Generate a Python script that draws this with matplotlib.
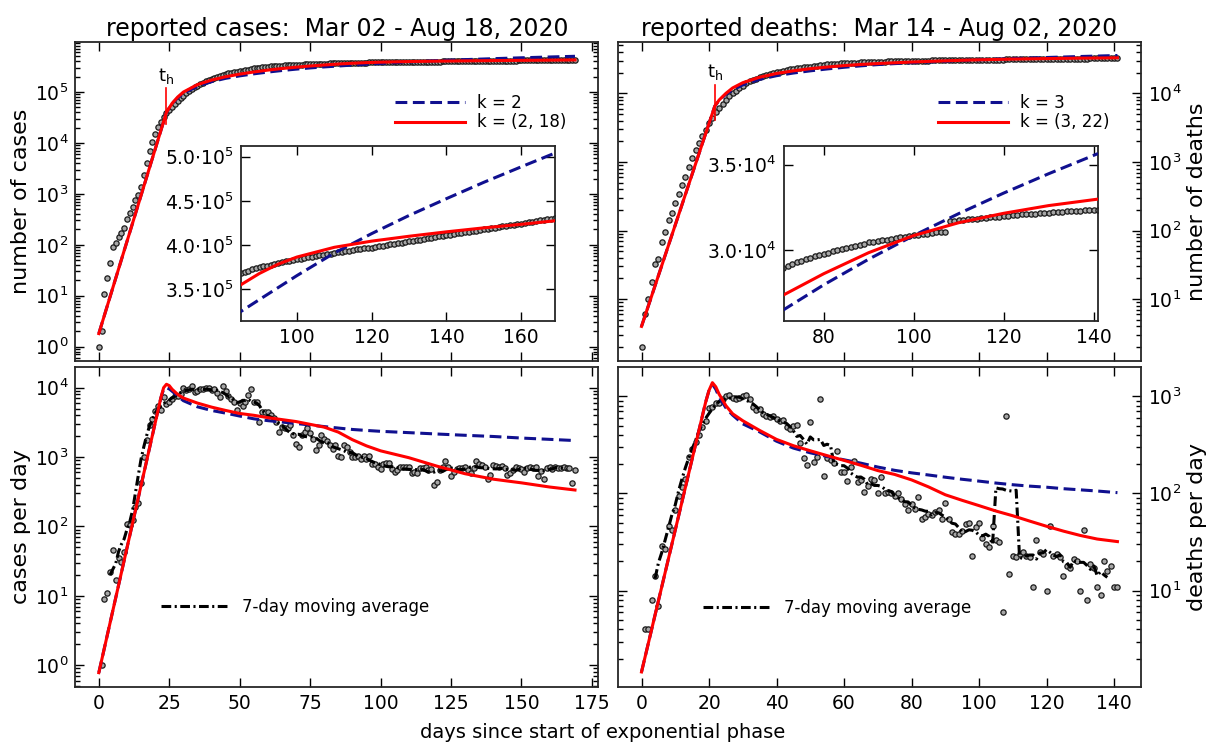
import numpy as np
import pandas as pd
import matplotlib
matplotlib.use("Agg")
import matplotlib.pyplot as plt
from matplotlib.ticker import FuncFormatter, LogLocator, NullFormatter, FixedLocator

plt.rcParams['font.family'] = ['DejaVu Sans']
plt.rcParams['mathtext.fontset'] = 'dejavusans'
plt.rcParams['lines.scale_dashes'] = False

# reported cases per day, day 1 .. 169 (day 0 cumulative = 1)
cases_start = 1
cases_daily = [
    1, 9, 11, 22, 45, 17, 35, 31, 43, 110,
    105, 123, 190, 218, 420, 1000, 1740, 2900, 3500, 4650,
    5500, 4700, 7300, 5900, 6300, 6900, 7700, 7700, 8200, 10000,
    9300, 9500, 10500, 8700, 9000, 9500, 9500, 10000, 10000, 9300,
    9500, 8500, 7400, 10500, 9000, 7700, 6800, 6200, 4700, 6000,
    5500, 6200, 7800, 9600, 6200, 6300, 3200, 4400, 4500, 4500,
    4000, 3600, 3200, 2300, 2700, 2600, 2600, 2900, 2050, 1550,
    1400, 2100, 2300, 2600, 2200, 1800, 1250, 1500, 2100, 1800,
    1700, 1500, 1300, 1500, 1050, 1000, 1500, 1400, 1200, 1000,
    1000, 1050, 950, 1050, 950, 1050, 800, 800, 720, 680,
    800, 830, 820, 680, 610, 645, 720, 720, 720, 720,
    580, 610, 580, 700, 700, 720, 650, 680, 390, 440,
    650, 720, 880, 720, 540, 610, 680, 700, 700, 720,
    650, 580, 700, 880, 800, 760, 720, 490, 550, 780,
    740, 720, 740, 700, 550, 580, 650, 720, 700, 680,
    615, 700, 724, 690, 724, 530, 640, 490, 700, 724,
    680, 724, 700, 700, 720, 690, 700, 420, 650]

# reported deaths per day, day 1 .. 141 (day 0 cumulative = 2)
deaths_start = 2
deaths_daily = [
    4, 4, 8, 14, 7, 29, 27, 46, 42, 67,
    95, 117, 141, 240, 290, 340, 400, 485, 550, 750,
    780, 850, 850, 940, 1000, 1020, 960, 940, 960, 1000,
    1020, 940, 770, 720, 740, 660, 630, 610, 620, 590,
    560, 570, 480, 460, 500, 510, 330, 230, 195, 540,
    210, 235, 930, 153, 230, 220, 205, 275, 166, 166,
    135, 186, 218, 131, 136, 103, 120, 140, 136, 100,
    148, 100, 103, 100, 95, 100, 88, 78, 67, 78,
    70, 92, 55, 57, 62, 60, 65, 67, 55, 79,
    55, 40, 38, 38, 41, 49, 50, 23, 45, 50,
    35, 30, 28, 46, 33, 32, 6, 624, 15, 23,
    22, 24, 25, 23, 22, 11, 33, 25, 24, 10,
    46, 23, 24, 22, 14, 18, 17, 21, 20, 10,
    42, 8, 19, 17, 11, 9, 20, 16, 18, 11, 11]

# fitted model curves
fit_cc_days = [0, 22, 24, 26, 28, 30, 35, 40, 45, 50, 55, 60, 65, 70, 75, 80, 85,
               90, 95, 100, 110, 120, 130, 140, 150, 160, 169]
fit_cc_k2 = [1.8, 1.74e4, 4.0e4, 5.9e4, 7.7e4, 9.4e4, 1.30e5, 1.60e5, 1.86e5, 2.08e5,
             2.28e5, 2.47e5, 2.65e5, 2.82e5, 2.98e5, 3.12e5, 3.249e5,
             3.385e5, 3.52e5, 3.655e5, 3.91e5, 4.13e5, 4.335e5, 4.525e5, 4.71e5, 4.885e5, 5.04e5]
fit_cc_k218 = [1.8, 1.74e4, 4.0e4, 6.0e4, 8.0e4, 1.0e5, 1.4e5, 1.72e5, 2.0e5, 2.25e5,
               2.48e5, 2.7e5, 2.9e5, 3.08e5, 3.25e5, 3.4e5, 3.551e5,
               3.68e5, 3.785e5, 3.865e5, 3.975e5, 4.045e5, 4.10e5, 4.15e5, 4.195e5, 4.235e5, 4.275e5]

fit_dc_days = [0, 22, 23, 24, 25, 26, 28, 30, 35, 40, 45, 50, 55, 60, 70, 80, 85,
               90, 95, 100, 110, 120, 130, 140, 150, 160, 169]
fit_dc_k2 = [0.78, 7100, 9500, 1.0e4, 9600, 8900, 7600, 6500, 5300, 4700, 4300, 3900,
             3560, 3350, 3050, 2750, 2620, 2500, 2420, 2350, 2250, 2150, 2060, 1980,
             1880, 1800, 1730]
fit_dc_k218 = [0.78, 7100, 1.0e4, 1.12e4, 1.07e4, 9500, 8000, 7100, 6000, 5250, 4700, 4250,
               4000, 3700, 3250, 2700, 2290, 1780, 1450, 1230, 980, 740, 575, 480,
               425, 370, 335]

fit_cd_days = [0, 21.7, 23, 25, 27, 30, 35, 40, 45, 50, 55, 60, 65, 71, 80, 90, 100,
               110, 120, 130, 141]
fit_cd_k3 = [4.0, 6500, 7900, 9700, 1.12e4, 1.33e4, 1.6e4, 1.81e4, 1.98e4, 2.13e4, 2.27e4,
             2.4e4, 2.52e4, 2.65e4, 2.797e4, 2.947e4, 3.085e4, 3.213e4, 3.333e4, 3.446e4, 3.564e4]
fit_cd_k322 = [4.0, 6500, 8000, 1.0e4, 1.2e4, 1.43e4, 1.72e4, 1.95e4, 2.13e4, 2.29e4, 2.42e4,
               2.54e4, 2.64e4, 2.737e4, 2.862e4, 2.985e4, 3.085e4, 3.16e4, 3.215e4, 3.26e4, 3.298e4]

fit_dd_days = [0, 19, 20, 21, 22, 23, 25, 27, 30, 35, 40, 45, 50, 55, 60, 65, 70, 75,
               80, 85, 90, 95, 100, 105, 110, 115, 120, 125, 130, 135, 141]
fit_dd_k3 = [1.46, 870, 1150, 1330, 1180, 980, 760, 640, 520, 430, 345, 293, 262, 240,
             222, 205, 187, 173, 163, 155, 147, 140, 134, 128, 123, 119, 116, 112, 109, 106, 102]
fit_dd_k322 = [1.46, 870, 1150, 1380, 1250, 1050, 800, 660, 560, 445, 360, 310, 275, 245,
               219, 195, 172, 157, 138, 117, 97, 85, 75, 66, 59, 52, 46, 41, 37, 34, 32]

# t_h markers: day, lower and upper end of the short red line
th_cases = (24, 2.4e4, 1.2e5)
th_deaths = (21.7, 4.1e3, 1.32e4)

cases_days = np.arange(len(cases_daily) + 1)
cases_cum = np.concatenate([[cases_start], cases_start + np.cumsum(cases_daily)])
deaths_days = np.arange(len(deaths_daily) + 1)
deaths_cum = np.concatenate([[deaths_start], deaths_start + np.cumsum(deaths_daily)])
cases_ma = pd.Series(cases_daily).rolling(7, center=True).mean()
deaths_ma = pd.Series(deaths_daily).rolling(7, center=True).mean()

RED = '#ff0000'
BLUE = '#10108f'
mk = dict(ls='none', marker='o', ms=3.8, mfc='0.65', mec='0.1', mew=0.9, zorder=2)
blue_kw = dict(color=BLUE, lw=2.2, dashes=(8.5, 4), zorder=4)
red_kw = dict(color=RED, lw=2.2, zorder=5)
ma_kw = dict(color='k', lw=2.2, dashes=(7, 2.5, 1.5, 2.5), zorder=3)

fig = plt.figure(figsize=(12.09, 7.43), dpi=100)
ax_cc = fig.add_axes([0.0624, 0.5141, 0.4323, 0.4293])
ax_dc = fig.add_axes([0.0624, 0.0758, 0.4323, 0.4299])
ax_cd = fig.add_axes([0.5108, 0.5141, 0.4330, 0.4293])
ax_dd = fig.add_axes([0.5108, 0.0758, 0.4330, 0.4299])


def style_log(ax, right=False):
    ax.set_yscale('log')
    ax.yaxis.set_major_locator(LogLocator(base=10, numticks=12))
    ax.yaxis.set_minor_locator(LogLocator(base=10, subs=np.arange(2, 10), numticks=12))
    ax.yaxis.set_minor_formatter(NullFormatter())
    ax.tick_params(which='both', direction='in', top=True, bottom=True, left=True, right=True,
                   labelsize=13.5, width=1, pad=5)
    ax.tick_params(which='major', length=6.5)
    ax.tick_params(which='minor', length=3.5)
    if right:
        ax.tick_params(labelleft=False, labelright=True)
        ax.yaxis.set_label_position('right')
    for s in ax.spines.values():
        s.set_linewidth(1.3)
        s.set_color('0.15')


# ---- cases cumulative ----
ax = ax_cc
ax.plot(cases_days, cases_cum, **mk)
lb, = ax.plot(fit_cc_days, fit_cc_k2, label='k = 2', **blue_kw)
lr, = ax.plot(fit_cc_days, fit_cc_k218, label='k = (2, 18)', **red_kw)
ax.plot([th_cases[0]] * 2, th_cases[1:], color=RED, lw=1.2, zorder=6)
ax.text(th_cases[0], 1.3e5, r'$\mathregular{t_h}$', ha='center', va='bottom', fontsize=13)
style_log(ax)
ax.set_xlim(-8.3, 177.2)
ax.set_ylim(0.52, 9.6e5)
ax.set_xticks(np.arange(0, 176, 25))
ax.tick_params(labelbottom=False)
ax.set_ylabel('number of cases', fontsize=16)
ax.yaxis.set_label_coords(-0.085, 0.5)
ax.set_title('reported cases:  Mar 02 - Aug 18, 2020', fontsize=17, pad=4)
ax.legend(handles=[lb, lr], loc='center left', bbox_to_anchor=(395 / 1209, 1 - 112.5 / 743),
          bbox_transform=fig.transFigure, frameon=False, fontsize=12, borderpad=0,
          borderaxespad=0, handlelength=4.2, handletextpad=0.75, labelspacing=0.1)

# ---- cases per day ----
ax = ax_dc
ax.plot(cases_days[1:], cases_daily, **mk)
lma, = ax.plot(cases_days[1:], cases_ma, label='7-day moving average', **ma_kw)
ax.plot(fit_dc_days, fit_dc_k2, **blue_kw)
ax.plot(fit_dc_days, fit_dc_k218, **red_kw)
style_log(ax)
ax.set_xlim(-8.3, 177.2)
ax.set_ylim(0.49, 1.97e4)
ax.set_xticks(np.arange(0, 176, 25))
ax.set_ylabel('cases per day', fontsize=16)
ax.yaxis.set_label_coords(-0.085, 0.5)
ax.legend(handles=[lma], loc='center left', bbox_to_anchor=(161 / 1209, 1 - 607.3 / 743),
          bbox_transform=fig.transFigure, frameon=False, fontsize=12, borderpad=0,
          borderaxespad=0, handlelength=4.1, handletextpad=0.75)

# ---- deaths cumulative ----
ax = ax_cd
ax.plot(deaths_days, deaths_cum, **mk)
lb, = ax.plot(fit_cd_days, fit_cd_k3, label='k = 3', **blue_kw)
lr, = ax.plot(fit_cd_days, fit_cd_k322, label='k = (3, 22)', **red_kw)
ax.plot([th_deaths[0]] * 2, th_deaths[1:], color=RED, lw=1.2, zorder=6)
ax.text(th_deaths[0], 1.45e4, r'$\mathregular{t_h}$', ha='center', va='bottom', fontsize=13)
style_log(ax, right=True)
ax.set_xlim(-7.1, 148.0)
ax.set_ylim(1.25, 5.6e4)
ax.set_xticks(np.arange(0, 141, 20))
ax.tick_params(labelbottom=False)
ax.set_ylabel('number of deaths', fontsize=16)
ax.yaxis.set_label_coords(1.088, 0.5)
ax.set_title('reported deaths:  Mar 14 - Aug 02, 2020', fontsize=17, pad=4)
ax.legend(handles=[lb, lr], loc='center left', bbox_to_anchor=(937.7 / 1209, 1 - 112.5 / 743),
          bbox_transform=fig.transFigure, frameon=False, fontsize=12, borderpad=0,
          borderaxespad=0, handlelength=4.2, handletextpad=0.75, labelspacing=0.1)

# ---- deaths per day ----
ax = ax_dd
ax.plot(deaths_days[1:], deaths_daily, **mk)
lma, = ax.plot(deaths_days[1:], deaths_ma, label='7-day moving average', **ma_kw)
ax.plot(fit_dd_days, fit_dd_k3, **blue_kw)
ax.plot(fit_dd_days, fit_dd_k322, **red_kw)
style_log(ax, right=True)
ax.set_xlim(-7.1, 148.0)
ax.set_ylim(1.03, 1987)
ax.set_xticks(np.arange(0, 141, 20))
ax.set_ylabel('deaths per day', fontsize=16)
ax.yaxis.set_label_coords(1.088, 0.5)
ax.legend(handles=[lma], loc='center left', bbox_to_anchor=(703 / 1209, 1 - 608.3 / 743),
          bbox_transform=fig.transFigure, frameon=False, fontsize=12, borderpad=0,
          borderaxespad=0, handlelength=4.1, handletextpad=0.75)


# ---- insets ----
def sci(v, pos):
    e = int(np.floor(np.log10(v)))
    m = v / 10 ** e
    return r'$\mathdefault{%.1f{\cdot}10^{%d}}$' % (m, e)


def style_inset(ax):
    ax.tick_params(which='both', direction='in', top=True, right=True, labelsize=13.5,
                   length=6.5, width=1, pad=5)
    ax.yaxis.set_major_formatter(FuncFormatter(sci))
    for s in ax.spines.values():
        s.set_linewidth(1.3)
        s.set_color('0.15')


ins = fig.add_axes([0.1992, 0.568, 0.2597, 0.2359])
ins.plot(cases_days, cases_cum, **mk)
ins.plot(fit_cc_days, fit_cc_k2, **blue_kw)
ins.plot(fit_cc_days, fit_cc_k218, **red_kw)
ins.set_xlim(85, 169)
ins.set_ylim(3.142e5, 5.124e5)
ins.xaxis.set_major_locator(FixedLocator([100, 120, 140, 160]))
ins.yaxis.set_major_locator(FixedLocator([3.5e5, 4.0e5, 4.5e5, 5.0e5]))
style_inset(ins)

ins = fig.add_axes([0.6482, 0.568, 0.2600, 0.2359])
ins.plot(deaths_days, deaths_cum, **mk)
ins.plot(fit_cd_days, fit_cd_k3, **blue_kw)
ins.plot(fit_cd_days, fit_cd_k322, **red_kw)
ins.set_xlim(71.1, 141)
ins.set_ylim(2.586e4, 3.61e4)
ins.xaxis.set_major_locator(FixedLocator([80, 100, 120, 140]))
ins.yaxis.set_major_locator(FixedLocator([3.0e4, 3.5e4]))
style_inset(ins)

fig.text(603 / 1209, 1 - 733 / 743, 'days since start of exponential phase',
         ha='center', va='center', fontsize=14)

fig.savefig('out.png', dpi=100)
